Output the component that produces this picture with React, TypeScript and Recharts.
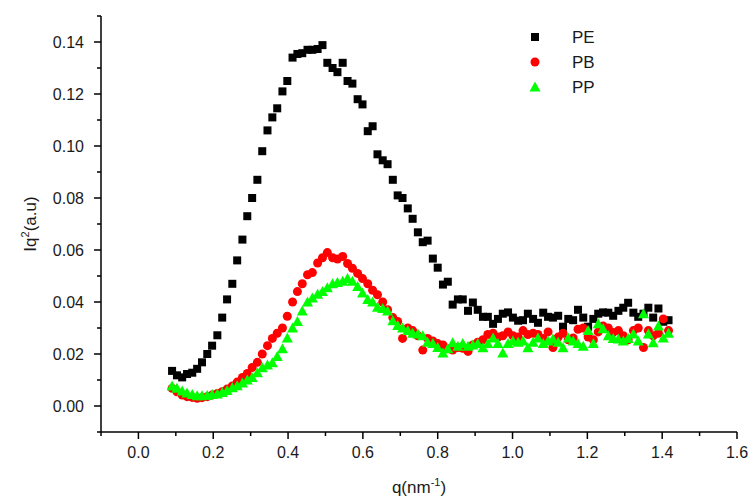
import { ScatterChart, Scatter, XAxis, YAxis } from "recharts";

// q grid (nm^-1), shared by the three samples
const Q = [
  0.090, 0.103, 0.117, 0.130, 0.144, 0.157, 0.170, 0.184, 0.197, 0.211,
  0.224, 0.237, 0.251, 0.264, 0.278, 0.291, 0.304, 0.318, 0.331, 0.345,
  0.358, 0.371, 0.385, 0.398, 0.412, 0.425, 0.438, 0.452, 0.465, 0.479,
  0.492, 0.505, 0.519, 0.532, 0.546, 0.559, 0.572, 0.586, 0.599, 0.613,
  0.626, 0.639, 0.653, 0.666, 0.680, 0.693, 0.706, 0.720, 0.733, 0.747,
  0.760, 0.773, 0.787, 0.800, 0.814, 0.827, 0.840, 0.854, 0.867, 0.881,
  0.894, 0.907, 0.921, 0.934, 0.948, 0.961, 0.974, 0.988, 1.001, 1.015,
  1.028, 1.041, 1.055, 1.068, 1.082, 1.095, 1.108, 1.122, 1.135, 1.149,
  1.162, 1.175, 1.189, 1.202, 1.216, 1.229, 1.242, 1.256, 1.269, 1.283,
  1.296, 1.309, 1.323, 1.336, 1.350, 1.363, 1.376, 1.390, 1.403, 1.417,
];

const PE = [
  0.0135, 0.0118, 0.011, 0.0123, 0.0128, 0.0143, 0.0168, 0.02, 0.0232, 0.0272,
  0.034, 0.041, 0.047, 0.056, 0.064, 0.073, 0.08, 0.087, 0.098, 0.106,
  0.111, 0.1145, 0.121, 0.125, 0.134, 0.1354, 0.1357, 0.137, 0.137, 0.1373,
  0.1388, 0.132, 0.13, 0.1284, 0.132, 0.125, 0.124, 0.118, 0.116, 0.1057,
  0.1076, 0.0968, 0.0945, 0.093, 0.087, 0.081, 0.08, 0.076, 0.072, 0.0668,
  0.063, 0.0636, 0.0567, 0.0532, 0.0467, 0.0478, 0.039, 0.041, 0.041, 0.0366,
  0.0398, 0.037, 0.0343, 0.0343, 0.0316, 0.0335, 0.0355, 0.036, 0.034, 0.0328,
  0.033, 0.0355, 0.0335, 0.032, 0.0359, 0.0343, 0.034, 0.0347, 0.0305, 0.0335,
  0.033, 0.037, 0.034, 0.0305, 0.0335, 0.0355, 0.036, 0.0359, 0.0347, 0.0366,
  0.0378, 0.0397, 0.0359, 0.0343, 0.0355, 0.0378, 0.034, 0.0375, 0.0324, 0.033,
];

const PB = [
  0.0068, 0.0055, 0.0042, 0.0036, 0.0033, 0.003, 0.0032, 0.0036, 0.0042, 0.0048,
  0.0055, 0.0065, 0.0077, 0.0092, 0.011, 0.0125, 0.0148, 0.0168, 0.02, 0.0232,
  0.026, 0.028, 0.03, 0.0345, 0.04, 0.044, 0.047, 0.0505, 0.0513, 0.055,
  0.057, 0.059, 0.057, 0.0565, 0.0575, 0.0548, 0.053, 0.051, 0.049, 0.047,
  0.0445, 0.0428, 0.04, 0.037, 0.034, 0.0325, 0.026, 0.03, 0.029, 0.027,
  0.0215, 0.026, 0.025, 0.024, 0.0235, 0.022, 0.0215, 0.0225, 0.0222, 0.021,
  0.0235, 0.0245, 0.0255, 0.0275, 0.028, 0.0265, 0.027, 0.0285, 0.027, 0.0265,
  0.029, 0.0275, 0.028, 0.0275, 0.026, 0.0285, 0.0225, 0.0265, 0.028, 0.0255,
  0.0262, 0.0295, 0.03, 0.0265, 0.0255, 0.0285, 0.0308, 0.03, 0.0283, 0.029,
  0.027, 0.0255, 0.029, 0.03, 0.0225, 0.029, 0.027, 0.028, 0.0335, 0.029,
];

const PP = [
  0.0077, 0.0068, 0.0058, 0.005, 0.0044, 0.0039, 0.0039, 0.004, 0.0044, 0.0046,
  0.0052, 0.006, 0.007, 0.0078, 0.0088, 0.01, 0.011, 0.0128, 0.0147, 0.0158,
  0.0166, 0.019, 0.022, 0.0262, 0.03, 0.0325, 0.0365, 0.04, 0.0415, 0.043,
  0.044, 0.0455, 0.047, 0.0475, 0.048, 0.049, 0.048, 0.046, 0.0435, 0.041,
  0.04, 0.038, 0.0375, 0.0365, 0.0328, 0.031, 0.03, 0.029, 0.028, 0.0277,
  0.027, 0.0245, 0.024, 0.0225, 0.0204, 0.022, 0.0243, 0.023, 0.024, 0.023,
  0.0235, 0.024, 0.0224, 0.024, 0.0262, 0.024, 0.0204, 0.024, 0.025, 0.0245,
  0.025, 0.0224, 0.0245, 0.0262, 0.024, 0.025, 0.0258, 0.0245, 0.0224, 0.0262,
  0.025, 0.024, 0.023, 0.029, 0.024, 0.0316, 0.0297, 0.027, 0.026, 0.0258,
  0.025, 0.026, 0.0277, 0.025, 0.0355, 0.0277, 0.0243, 0.0308, 0.0262, 0.028,
];

const X_TICKS = [-0.1, 0, 0.1, 0.2, 0.3, 0.4, 0.5, 0.6, 0.7, 0.8, 0.9, 1.0, 1.1, 1.2, 1.3, 1.4, 1.5, 1.6];
const Y_TICKS = [-0.01, 0, 0.01, 0.02, 0.03, 0.04, 0.05, 0.06, 0.07, 0.08, 0.09, 0.1, 0.11, 0.12, 0.13, 0.14, 0.15];

const FONT = "Arial, 'Liberation Sans', sans-serif";
const INK = "#1a1a1a";

const toPoints = (ys: number[]) => Q.map((q, i) => ({ q, v: ys[i] }));

const Square = ({ cx, cy }: any) => <rect x={cx - 4} y={cy - 4} width={8} height={8} fill="#000000" />;
const Dot = ({ cx, cy }: any) => <circle cx={cx} cy={cy} r={4.5} fill="#ff0000" />;
const Tri = ({ cx, cy }: any) => (
  <polygon points={`${cx},${cy - 5.5} ${cx + 5.5},${cy + 4.5} ${cx - 5.5},${cy + 4.5}`} fill="#00ff00" />
);

const XTick = ({ x, y, payload }: any) => {
  const major = Math.round(payload.value * 10) % 2 === 0;
  return (
    <g>
      <line x1={x} x2={x} y1={y} y2={y + (major ? 7 : 4)} stroke="#000" strokeWidth={1.5} />
      {major && (
        <text x={x} y={y + 26} textAnchor="middle" fontSize={16} fontFamily={FONT} fill={INK}>
          {payload.value.toFixed(1)}
        </text>
      )}
    </g>
  );
};

const YTick = ({ x, y, payload }: any) => {
  const major = Math.round(payload.value * 100) % 2 === 0;
  return (
    <g>
      <line x1={x} x2={x - (major ? 7 : 4)} y1={y} y2={y} stroke="#000" strokeWidth={1.5} />
      {major && (
        <text x={x - 17} y={y + 5.5} textAnchor="end" fontSize={16} fontFamily={FONT} fill={INK}>
          {payload.value.toFixed(2)}
        </text>
      )}
    </g>
  );
};

const legendItems = [
  { name: "PE", Shape: Square },
  { name: "PB", Shape: Dot },
  { name: "PP", Shape: Tri },
];

export default function App() {
  return (
    <div style={{ position: "absolute", left: 0, top: 0, width: 750, height: 500, background: "#fff" }}>
      <ScatterChart width={750} height={500} margin={{ top: 16, right: 13, bottom: 0, left: 0 }}>
        <XAxis
          type="number"
          dataKey="q"
          domain={[-0.1, 1.6]}
          ticks={X_TICKS}
          interval={0}
          height={68}
          tickSize={0}
          tickMargin={0}
          tick={<XTick />}
          tickLine={false}
          axisLine={{ stroke: "#000", strokeWidth: 1.5 }}
          allowDataOverflow
        />
        <YAxis
          type="number"
          dataKey="v"
          domain={[-0.01, 0.15]}
          ticks={Y_TICKS}
          interval={0}
          width={101}
          tickSize={0}
          tickMargin={0}
          tick={<YTick />}
          tickLine={false}
          axisLine={{ stroke: "#000", strokeWidth: 1.5 }}
          allowDataOverflow
        />
        <Scatter name="PE" data={toPoints(PE)} shape={<Square />} isAnimationActive={false} />
        <Scatter name="PB" data={toPoints(PB)} shape={<Dot />} isAnimationActive={false} />
        <Scatter name="PP" data={toPoints(PP)} shape={<Tri />} isAnimationActive={false} />
        <g>
          {legendItems.map(({ name, Shape }, i) => (
            <g key={name}>
              <Shape cx={535} cy={37 + i * 25} />
              <text x={572} y={43 + i * 25} fontSize={17} fontFamily={FONT} fill={INK}>
                {name}
              </text>
            </g>
          ))}
        </g>
        <text x={419} y={493} textAnchor="middle" fontSize={17} fontFamily={FONT} fill={INK}>
          q(nm
          <tspan fontSize={11} dy={-7}>-1</tspan>
          <tspan dy={7}>)</tspan>
        </text>
        <text
          x={0}
          y={0}
          transform="translate(36,224) rotate(-90)"
          textAnchor="middle"
          fontSize={17}
          fontFamily={FONT}
          fill={INK}
        >
          Iq
          <tspan fontSize={11} dy={-7}>2</tspan>
          <tspan dy={7}>(a.u)</tspan>
        </text>
      </ScatterChart>
    </div>
  );
}
